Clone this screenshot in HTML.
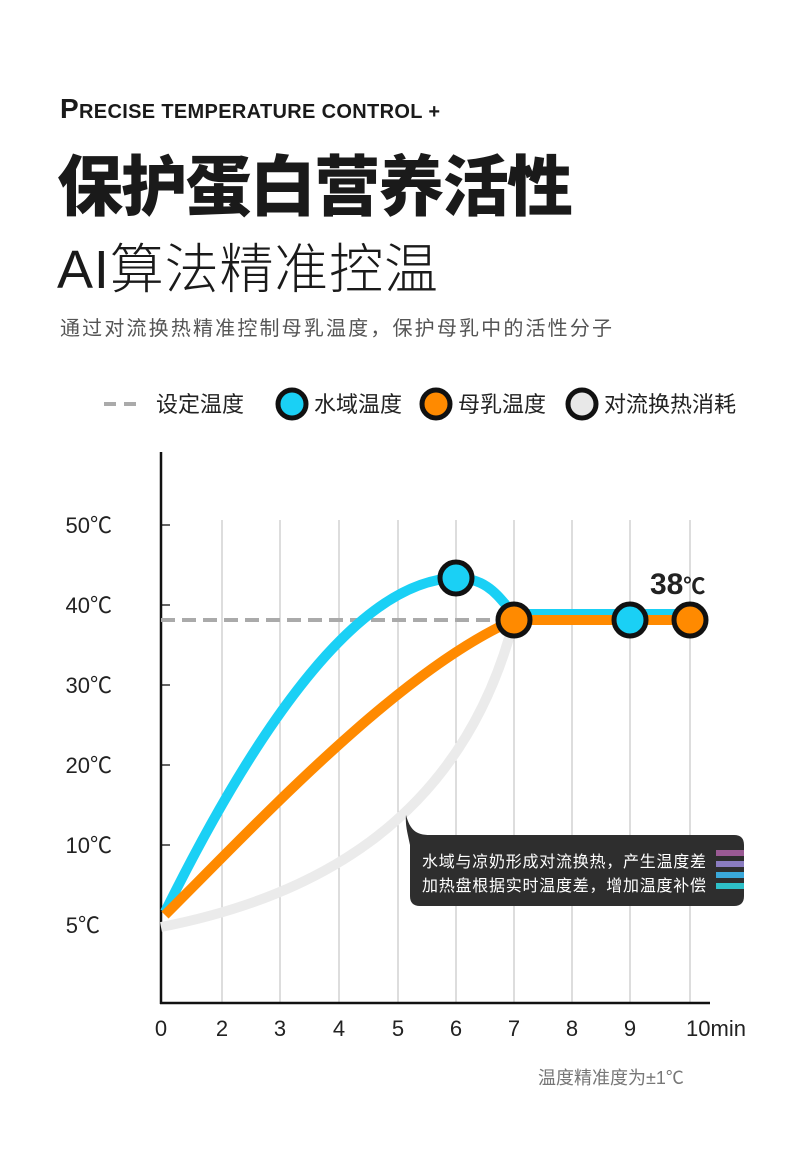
<!DOCTYPE html>
<html><head><meta charset="utf-8"><style>
body{margin:0;background:#fff;width:790px;height:1160px;overflow:hidden;font-family:"Liberation Sans","Noto Sans CJK SC",sans-serif;}
svg{position:absolute;left:0;top:0}
</style></head><body>
<svg width="790" height="1160" xmlns="http://www.w3.org/2000/svg" font-family="Liberation Sans, Noto Sans CJK SC, sans-serif">
<text x="60" y="118" font-size="20" font-weight="bold" fill="#1a1a1a" textLength="380"><tspan font-size="28">P</tspan>RECISE TEMPERATURE CONTROL +</text>
<text x="57" y="210" font-size="66" font-weight="900" fill="#1a1a1a" font-family="Noto Sans CJK SC, sans-serif" textLength="516">保护蛋白营养活性</text>
<text x="57" y="288" font-size="54" fill="#1a1a1a" font-family="Liberation Sans, Noto Sans CJK SC, sans-serif" font-weight="300" textLength="381">AI算法精准控温</text>
<text x="60" y="335" font-size="20" fill="#555" textLength="552">通过对流换热精准控制母乳温度，保护母乳中的活性分子</text>
<!-- legend -->
<line x1="104" y1="404" x2="140" y2="404" stroke="#aaa" stroke-width="4" stroke-dasharray="12,8"/>
<text x="156" y="412" font-size="22" fill="#222">设定温度</text>
<circle cx="292" cy="404" r="14" fill="#1ad0f5" stroke="#111" stroke-width="5"/>
<text x="314" y="412" font-size="22" fill="#222">水域温度</text>
<circle cx="436" cy="404" r="14" fill="#ff8a00" stroke="#111" stroke-width="5"/>
<text x="458" y="412" font-size="22" fill="#222">母乳温度</text>
<circle cx="582" cy="404" r="14" fill="#e8e8e8" stroke="#111" stroke-width="5"/>
<text x="604" y="412" font-size="22" fill="#222">对流换热消耗</text>
<!-- grid -->
<g stroke="#bbb" stroke-width="1">
<line x1="222" y1="520" x2="222" y2="1003"/><line x1="280" y1="520" x2="280" y2="1003"/>
<line x1="339" y1="520" x2="339" y2="1003"/><line x1="398" y1="520" x2="398" y2="1003"/>
<line x1="456" y1="520" x2="456" y2="1003"/><line x1="514" y1="520" x2="514" y2="1003"/>
<line x1="572" y1="520" x2="572" y2="1003"/><line x1="630" y1="520" x2="630" y2="1003"/>
<line x1="690" y1="520" x2="690" y2="1003"/>
</g>
<g stroke="#333" stroke-width="1.5">
<line x1="161" y1="525" x2="170" y2="525"/><line x1="161" y1="605" x2="170" y2="605"/>
<line x1="161" y1="685" x2="170" y2="685"/><line x1="161" y1="765" x2="170" y2="765"/>
<line x1="161" y1="845" x2="170" y2="845"/><line x1="161" y1="925" x2="170" y2="925"/>
</g>
<line x1="161" y1="452" x2="161" y2="1004" stroke="#111" stroke-width="2.5"/>
<line x1="160" y1="1003" x2="710" y2="1003" stroke="#111" stroke-width="2.5"/>
<g font-size="22" fill="#222" text-anchor="end">
<text x="112" y="533">50℃</text><text x="112" y="613">40℃</text><text x="112" y="693">30℃</text>
<text x="112" y="773">20℃</text><text x="112" y="853">10℃</text><text x="100" y="933">5℃</text>
</g>
<g font-size="22" fill="#222" text-anchor="middle">
<text x="161" y="1036">0</text><text x="222" y="1036">2</text><text x="280" y="1036">3</text>
<text x="339" y="1036">4</text><text x="398" y="1036">5</text><text x="456" y="1036">6</text>
<text x="514" y="1036">7</text><text x="572" y="1036">8</text><text x="630" y="1036">9</text>
<text x="716" y="1036">10min</text>
</g>
<text x="538" y="1084" font-size="18" fill="#777">温度精准度为±1℃</text>
<!-- dashed set -->
<line x1="161" y1="620" x2="514" y2="620" stroke="#aaa" stroke-width="4" stroke-dasharray="14,7"/>
<!-- curves -->
<path d="M161,927 C300,900 460,830 514,620" fill="none" stroke="#ebebeb" stroke-width="10"/>
<path d="M165,912 C260,720 360,580 456,578 C490,578 500,600 514,614 L690,614" fill="none" stroke="#1ad0f5" stroke-width="10"/>
<path d="M165,915 C260,820 400,670 514,620 L690,620" fill="none" stroke="#ff8a00" stroke-width="10"/>
<circle cx="456" cy="578" r="16" fill="#1ad0f5" stroke="#111" stroke-width="5"/>
<circle cx="514" cy="620" r="16" fill="#ff8a00" stroke="#111" stroke-width="5"/>
<circle cx="630" cy="620" r="16" fill="#1ad0f5" stroke="#111" stroke-width="5"/>
<circle cx="690" cy="620" r="16" fill="#ff8a00" stroke="#111" stroke-width="5"/>
<text x="650" y="594" font-size="30" font-weight="bold" fill="#222">38<tspan font-size="22">℃</tspan></text>
<!-- tooltip -->
<path d="M406,815 C410,830 416,835 430,835 L734,835 Q744,835 744,845 L744,896 Q744,906 734,906 L420,906 Q410,906 410,896 L410,845 C408,835 405,825 406,815 Z" fill="#2e2e2e"/>
<text x="422" y="867" font-size="16" fill="#fff" textLength="284">水域与凉奶形成对流换热，产生温度差</text>
<text x="422" y="891" font-size="16" fill="#fff" textLength="284">加热盘根据实时温度差，增加温度补偿</text>
<rect x="716" y="850" width="28" height="6" fill="#9a5a94"/>
<rect x="716" y="861" width="28" height="6" fill="#8a7cc0"/>
<rect x="716" y="872" width="28" height="6" fill="#3aa8da"/>
<rect x="716" y="883" width="28" height="6" fill="#2ec0c8"/>
</svg>
</body></html>
